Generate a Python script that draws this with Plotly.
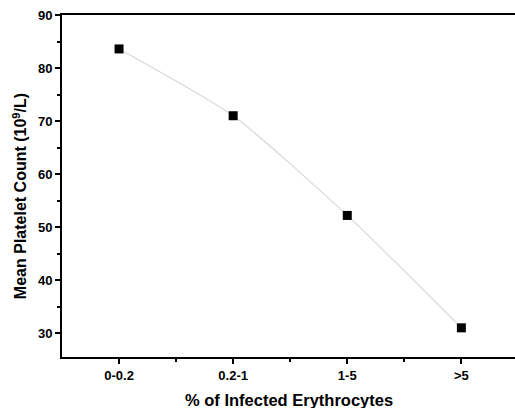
import plotly.graph_objects as go

categories = ["0-0.2", "0.2-1", "1-5", ">5"]
platelet_means = [83.6, 71.0, 52.2, 31.0]
y_ticks = [30, 40, 50, 60, 70, 80, 90]

x_pos = list(range(len(categories)))

fig = go.Figure()
fig.add_trace(go.Scatter(
    x=x_pos, y=platelet_means,
    mode="lines+markers",
    line=dict(color="#d8d8d8", width=1.2, shape="spline", smoothing=0.6),
    marker=dict(symbol="square", size=9, color="black"),
    showlegend=False,
))

font_fam = "Liberation Sans, Arial, sans-serif"
fig.update_layout(
    width=515, height=408,
    margin=dict(l=62, r=0, t=15, b=51),
    paper_bgcolor="white", plot_bgcolor="white",
    font=dict(family=font_fam, color="black"),
    annotations=[
        dict(text="<b>% of Infected Erythrocytes</b>", xref="paper", yref="paper",
             x=0.5, y=-0.125, xanchor="center", yanchor="middle", showarrow=False,
             font=dict(size=16.5, family=font_fam, color="black")),
        dict(text="<b>Mean Platelet Count (10<sup>9</sup>/L)</b>", xref="paper", yref="paper",
             x=-0.093, y=0.47, xanchor="center", yanchor="middle", showarrow=False, textangle=-90,
             font=dict(size=16, family=font_fam, color="black")),
    ],
)
fig.update_xaxes(
    range=[-0.5, 3.47], automargin=False,
    tickmode="array", tickvals=x_pos, ticktext=categories,
    ticks="outside", ticklen=5, tickwidth=1.5, tickcolor="black",
    minor=dict(tickmode="array", tickvals=[0.5, 1.5, 2.5], ticks="outside", ticklen=3, tickwidth=1.5, tickcolor="black"),
    showline=True, linecolor="black", linewidth=2, mirror=True,
    showgrid=False, zeroline=False,
    tickfont=dict(size=13, family=font_fam, weight="bold"),
)
fig.update_yaxes(
    range=[25.5, 90], automargin=False,
    tickmode="array", tickvals=y_ticks,
    ticks="outside", ticklen=5, tickwidth=1.5, tickcolor="black",
    minor=dict(tickmode="linear", tick0=25, dtick=5, ticks="outside", ticklen=3, tickwidth=1.5, tickcolor="black"),
    showline=True, linecolor="black", linewidth=2,
    showgrid=False, zeroline=False,
    tickfont=dict(size=13, family=font_fam, weight="bold"),
)

fig.write_html("out.html", config={"displayModeBar": False},
               post_script="document.body.style.margin='0';document.body.style.overflow='hidden';")
